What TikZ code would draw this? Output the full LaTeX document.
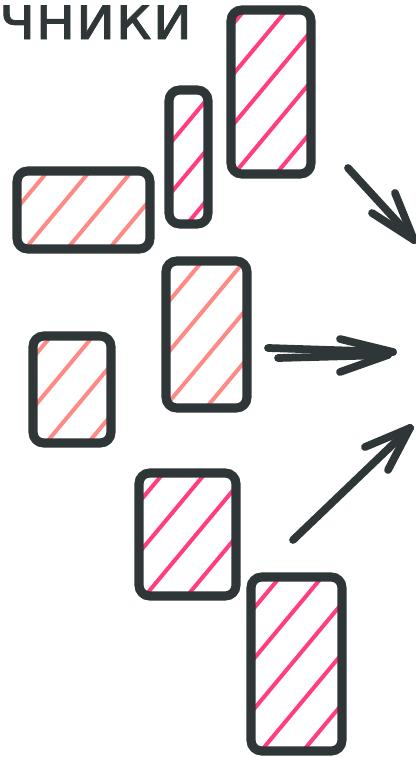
\documentclass[tikz,border=0pt]{standalone}
\usepackage{fontspec}
\newfontfamily\handfont[FakeBold=1.2]{DejaVu Sans}
\definecolor{ink}{HTML}{2F3638}
\definecolor{hotpink}{HTML}{FF3D7F}
\definecolor{salmon}{HTML}{FF8A85}
\begin{document}
\begin{tikzpicture}[x=0.75pt,y=-0.75pt,
  box/.style={draw=ink,line width=6.8pt,rounded corners=8pt},
  hatch/.style={line width=3pt,line cap=round},
  arr/.style={draw=ink,line width=5.8pt,line cap=round,line join=round}]
\useasboundingbox (0,0) rectangle (416,757);
\newcommand\hatchbox[6]{%
  \begin{scope}
    \clip[rounded corners=8pt] (#1,#2) rectangle (#3,#4);
    \foreach \i in {0,...,9} {
      \pgfmathsetmacro\kk{#1-170+42*\i+#6}
      \draw[hatch,#5] (\kk,#4) -- ++(200,-240);
    }
  \end{scope}
  \draw[box] (#1,#2) rectangle (#3,#4);
}
% text
\node[anchor=base west, inner sep=0pt, text=ink, font=\handfont\fontsize{46}{46}\selectfont] (title) at (-1,39) {чники};
% boxes
\hatchbox{231}{10}{311}{174}{hotpink}{5}
\hatchbox{169}{90}{208}{224}{hotpink}{20}
\hatchbox{17}{171}{150}{249}{salmon}{10}
\hatchbox{166}{261}{247}{408}{salmon}{0}
\hatchbox{33}{336}{111}{443}{salmon}{15}
\hatchbox{139}{473}{236}{596}{hotpink}{8}
\hatchbox{251}{577}{342}{751}{hotpink}{12}
% arrow A
\coordinate (a0) at (348,168);
\coordinate (a1) at (414,240);
\coordinate (a2) at (395,193);
\coordinate (a3) at (372,213);
\draw[arr] (a0) -- (a1);
\draw[arr] (a2) -- (a1);
\draw[arr] (a3) -- (a1);
% arrow B (double)
\coordinate (b0) at (268,348);
\coordinate (b1) at (393,352);
\coordinate (b2) at (278,358);
\coordinate (b3) at (388,355);
\coordinate (b4) at (340,339);
\coordinate (b5) at (340,372);
\draw[arr] (b0) -- (b1);
\draw[arr] (b2) -- (b3);
\draw[arr] (b4) -- (b1);
\draw[arr] (b5) -- (b3);
% arrow C
\coordinate (c0) at (293,540);
\coordinate (c1) at (410,428);
\coordinate (c2) at (365,447);
\coordinate (c3) at (388,470);
\draw[arr] (c0) -- (c1);
\draw[arr] (c2) -- (c1);
\draw[arr] (c3) -- (c1);
\end{tikzpicture}
\end{document}
